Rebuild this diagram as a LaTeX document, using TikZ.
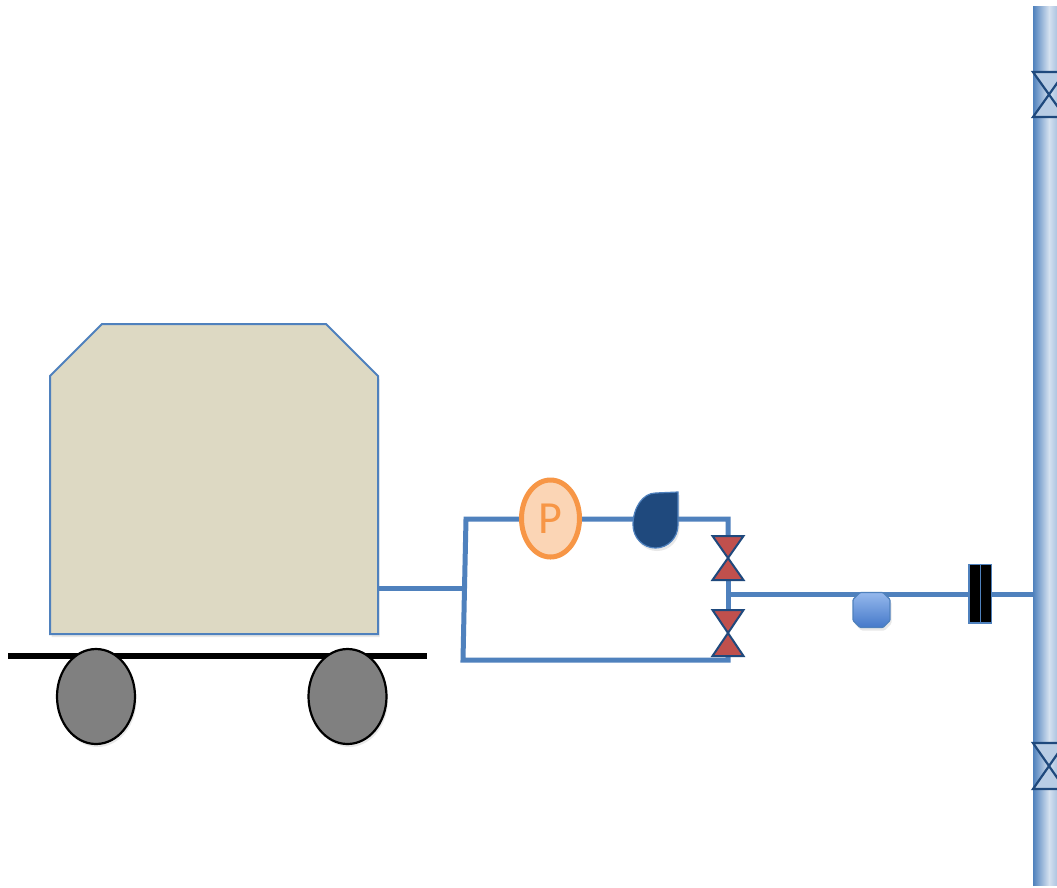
\documentclass[tikz,border=0pt]{standalone}
\usepackage{fontspec}
\newfontfamily\pumpfont{Carlito}
\usetikzlibrary{shapes.geometric,shadows}

\definecolor{pipeblue}{HTML}{4F81BD}
\definecolor{navy}{HTML}{1F497D}
\definecolor{tankfill}{HTML}{DDD9C3}
\definecolor{pumpfill}{HTML}{FBD5B5}
\definecolor{pumpline}{HTML}{F79646}
\definecolor{valvered}{HTML}{C0504D}
\definecolor{valvelight}{HTML}{B9CDE5}
\definecolor{wheelgray}{HTML}{808080}
\definecolor{strainertop}{HTML}{95B8EC}
\definecolor{strainerbot}{HTML}{4579C9}

\tikzset{
  pipe/.style={draw=pipeblue, line width=5pt, line join=miter},
  softshadow/.style={drop shadow={shadow xshift=1.5pt, shadow yshift=-3pt, opacity=.18}},
  wheel/.style={ellipse, draw=black, line width=2.2pt, fill=wheelgray,
    minimum width=78pt, minimum height=95pt, inner sep=0pt, softshadow},
  pumpnode/.style={ellipse, draw=pumpline, fill=pumpfill, line width=5pt,
    minimum width=58pt, minimum height=77pt, inner sep=0pt,
    text=pumpline, font=\pumpfont\fontsize{46}{48}\selectfont},
  pics/bowtie/.style n args={2}{code={
    \path[pic actions] (-#1,-#2) -- (#1,-#2) -- (-#1,#2) -- (#1,#2) -- cycle;}},
  redvalve/.style={fill=valvered, draw=navy, line width=2pt, line join=miter},
  linevalve/.style={fill=valvelight, draw=navy, line width=2.2pt, line join=miter},
}

\begin{document}
\begin{tikzpicture}[x=1pt, y=-1pt]
\clip (0,0) rectangle (1057,887);
\fill[white] (0,0) rectangle (1057,887);

% junction points of the piping
\coordinate (tankout) at (379,588);
\coordinate (jn) at (464.5,588);
\coordinate (tl) at (466,519);
\coordinate (bl) at (463,660);
\coordinate (tr) at (728,519);
\coordinate (br) at (728,660);
\coordinate (v1) at (728,558);
\coordinate (v2) at (728,633);
\coordinate (tee) at (728,594.5);
\coordinate (main) at (1035,594.5);

% tank on its trailer
\draw[fill=tankfill, draw=pipeblue, line width=2pt, softshadow]
  (102,324) -- (326,324) -- (378,376) -- (378,634) -- (50,634) -- (50,376) -- cycle;
\draw[line width=5.5pt, black] (8,656) -- (427,656);
\node[wheel] (w1) at (96,696.5) {};
\node[wheel] (w2) at (347.5,696.5) {};

% piping
\draw[pipe] (tankout) -- (jn);
\draw[pipe] (jn) -- (tl) -- (tr) -- (728,536);
\draw[pipe] (728,580) -- (728,610);
\draw[pipe] (728,655) -- (br) -- (bl) -- (jn);
\draw[pipe] (tee) -- (main);

% main vertical line
\shade[left color=pipeblue, right color=valvelight!60!white] (1033,6) rectangle (1049,885);
\shade[left color=valvelight!60!white, right color=pipeblue!70!white] (1049,6) rectangle (1065,885);
\pic[linevalve] at (1049,94.5) {bowtie={16}{22.5}};
\pic[linevalve] at (1049,766) {bowtie={16}{23}};

% pump
\node[pumpnode] (pump) at (550.5,518.5) {P};

% check element on the upper branch
\draw[fill=navy, draw=pipeblue, line width=1.2pt, softshadow]
  (678,492) -- (678,525) arc[start angle=0, end angle=180, x radius=22.5, y radius=23]
  arc[start angle=180, end angle=270, x radius=22.5, y radius=32] -- cycle;

% isolation valves
\pic[redvalve] at (v1) {bowtie={15.5}{22}};
\pic[redvalve] at (v2) {bowtie={15.5}{23}};

% strainer
\shade[top color=strainertop, bottom color=strainerbot, draw=pipeblue,
  line width=1.2pt, rounded corners=1pt, softshadow]
  (860,592.5) -- (883,592.5) -- (890,599.5) -- (890,620.5) -- (883,627.5) -- (860,627.5)
  -- (853,620.5) -- (853,599.5) -- cycle;

% flange pair
\draw[fill=black, draw=pipeblue, line width=1.2pt] (969,564.5) rectangle (980.5,623);
\draw[fill=black, draw=pipeblue, line width=1.2pt] (980.5,564.5) rectangle (991.5,623);
\end{tikzpicture}
\end{document}
